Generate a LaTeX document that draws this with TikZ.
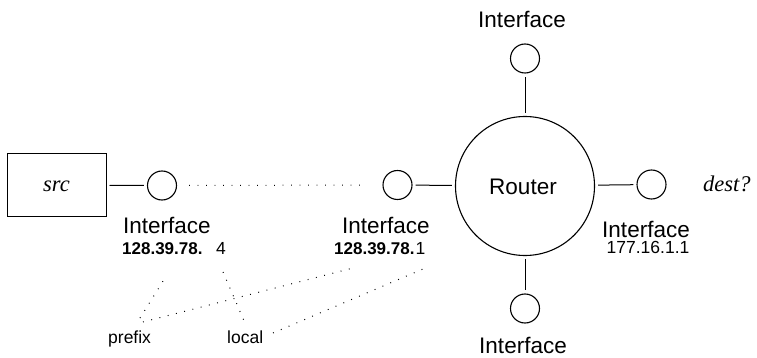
\documentclass[tikz,border=0pt]{standalone}
\usepackage{fontspec}
\setmainfont{Liberation Sans}
\newfontfamily\serifit{Liberation Serif}
\begin{document}
\begin{tikzpicture}[x=1pt,y=-1pt,
  iface/.style={circle,draw,line width=1.1pt,minimum size=29pt,inner sep=0pt},
  conn/.style={line width=1pt,shorten <=3pt,shorten >=3pt},
  dotline/.style={line width=1pt,dash pattern=on 0.9pt off 7.6pt},
  lbl/.style={inner sep=0pt,font=\fontsize{22.5}{24}\selectfont},
  addr/.style={inner sep=0pt,font=\fontsize{17.5}{20}\selectfont},
  baddr/.style={inner sep=0pt,font=\fontsize{17}{20}\selectfont\bfseries},
]
\useasboundingbox (0,0) rectangle (757,358);
% nodes
\node[draw,line width=1pt,minimum width=99pt,minimum height=62pt,inner sep=0pt] (src) at (56.5,185) {};
\node[lbl,anchor=base] at (56.5,192) {\serifit\itshape src};
\node[iface] (c1) at (162,185.5) {};
\node[iface] (c2) at (397.5,185) {};
\node[circle,draw,line width=1.1pt,minimum size=139pt,inner sep=0pt] (router) at (525,186) {};
\node[lbl,anchor=base] (routerlbl) at (523,195) {Router};
\node[iface] (ctop) at (525,58.5) {};
\node[iface] (cbot) at (525,308.5) {};
\node[iface] (cright) at (651.5,184.5) {};
% connectors
\draw[conn] (src) -- (c1);
\draw[conn] (c2) -- (router);
\draw[conn] (router) -- (ctop);
\draw[conn] (router) -- (cbot);
\draw[conn] (router) -- (cright);
\draw[dotline,shorten <=12pt,shorten >=20pt] (c1) -- (c2);
% labels
\node[lbl,anchor=base west] (l1) at (123,233) {Interface};
\node[lbl,anchor=base west] (l2) at (342,233) {Interface};
\node[lbl,anchor=base] (l3) at (522,28) {Interface};
\node[lbl,anchor=base] (l4) at (523,353.5) {Interface};
\node[lbl,anchor=base] (l5) at (646,237) {Interface};
\node[lbl,anchor=base west] (dest) at (703,192) {\serifit\itshape dest?};
\node[baddr,anchor=base west] (a1p) at (122,254.5) {128.39.78.};
\node[addr,anchor=base west] (a1l) at (216,254.5) {4};
\node[baddr,anchor=base west] (a2p) at (334,254.5) {128.39.78.};
\node[addr,anchor=base west] (a2l) at (415.5,254.5) {1};
\node[addr,anchor=base] (a3) at (648,253.5) {177.16.1.1};
\node[addr,anchor=base west] (prefix) at (108,343) {prefix};
\node[addr,anchor=base west] (local) at (227,343) {local};
% dotted annotation lines
\coordinate (pa) at (140,318);
\coordinate (pb) at (143,322);
\coordinate (la) at (245,323);
\coordinate (lb) at (273,333);
\coordinate (a1pt) at (165,278);
\coordinate (a1lt) at (223,272);
\coordinate (a2pt) at (353,268);
\coordinate (a2lt) at (423,269);
\draw[dotline] (pa) -- (a1pt);
\draw[dotline] (a1lt) -- (la);
\draw[dotline] (pb) -- (a2pt);
\draw[dotline] (lb) -- (a2lt);
\end{tikzpicture}
\end{document}
